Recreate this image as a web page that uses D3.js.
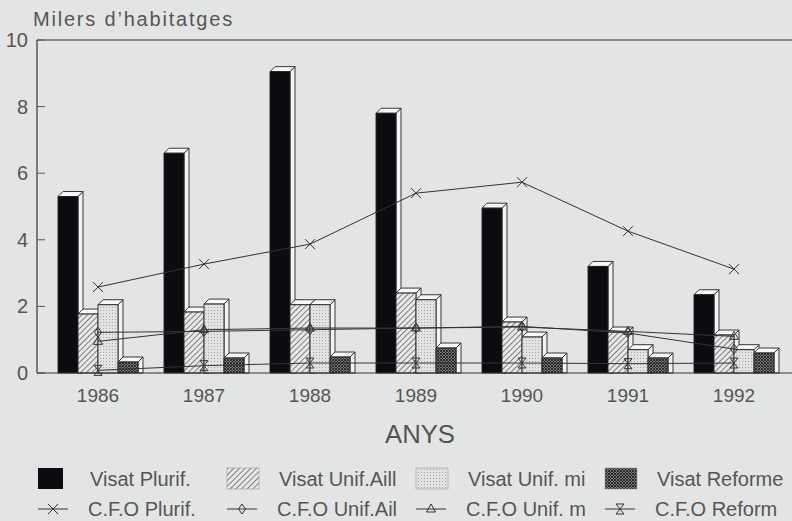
<!DOCTYPE html>
<html>
<head>
<meta charset="utf-8">
<script src="https://cdn.jsdelivr.net/npm/d3@7"></script>
<style>
  body { margin: 0; background: #e3e5e4; }
  svg { display: block; }
  text { font-family: "Liberation Sans", "DejaVu Sans", sans-serif; fill: #555; }
</style>
</head>
<body>
<svg id="chart" width="792" height="521"></svg>
<script>
// dades
const years = ["1986", "1987", "1988", "1989", "1990", "1991", "1992"];
const visatPlurif = [5.3, 6.6, 9.05, 7.8, 4.95, 3.2, 2.35];
const visatUnifAill = [1.77, 1.83, 2.05, 2.4, 1.53, 1.23, 1.14];
const visatUnifMi = [2.05, 2.07, 2.05, 2.2, 1.08, 0.7, 0.7];
const visatReforme = [0.33, 0.45, 0.48, 0.75, 0.45, 0.45, 0.6];
const cfoPlurif = [2.58, 3.27, 3.87, 5.4, 5.73, 4.26, 3.12];
const cfoUnifAil = [1.22, 1.25, 1.3, 1.35, 1.4, 1.2, 0.72];
const cfoUnifM = [0.95, 1.3, 1.35, 1.35, 1.38, 1.25, 1.1];
const cfoReform = [0.08, 0.22, 0.3, 0.3, 0.3, 0.28, 0.3];
const yTicks = [0, 2, 4, 6, 8, 10];

const svg = d3.select("#chart");
const x = d3.scaleBand().domain(years).range([45, 787]);
const y = d3.scaleLinear().domain([0, 10]).range([373, 40]);
const barW = 20, dx = 5, dy = 5;

// patrons
const defs = svg.append("defs");
const hatch = defs.append("pattern").attr("id", "hatch").attr("patternUnits", "userSpaceOnUse")
  .attr("width", 4).attr("height", 4).attr("patternTransform", "rotate(45)");
hatch.append("rect").attr("width", 4).attr("height", 4).attr("fill", "#e8e8e8");
hatch.append("line").attr("x1", 0).attr("y1", 0).attr("x2", 0).attr("y2", 4).attr("stroke", "#444").attr("stroke-width", 1.3);

const dots = defs.append("pattern").attr("id", "dots").attr("patternUnits", "userSpaceOnUse")
  .attr("width", 3).attr("height", 3);
dots.append("rect").attr("width", 3).attr("height", 3).attr("fill", "#e2e2e2");
dots.append("rect").attr("x", 1).attr("y", 1).attr("width", 1).attr("height", 1).attr("fill", "#aaa");

const dense = defs.append("pattern").attr("id", "dense").attr("patternUnits", "userSpaceOnUse")
  .attr("width", 3).attr("height", 3);
dense.append("rect").attr("width", 3).attr("height", 3).attr("fill", "#777");
dense.append("path").attr("d", "M0,0L3,3M3,0L0,3").attr("stroke", "#222").attr("stroke-width", 0.9);

const barSeries = [
  { name: "Visat Plurif.", values: visatPlurif, fill: "#0b0b10" },
  { name: "Visat Unif.Aill", values: visatUnifAill, fill: "url(#hatch)" },
  { name: "Visat Unif. mi", values: visatUnifMi, fill: "url(#dots)" },
  { name: "Visat Reforme", values: visatReforme, fill: "url(#dense)" }
];
const lineSeries = [
  { name: "C.F.O Plurif.", values: cfoPlurif, marker: "x" },
  { name: "C.F.O Unif.Ail", values: cfoUnifAil, marker: "diamond" },
  { name: "C.F.O Unif. m", values: cfoUnifM, marker: "triangle" },
  { name: "C.F.O Reform", values: cfoReform, marker: "hourglass" }
];

// eixos
svg.append("line").attr("x1", 37).attr("x2", 792).attr("y1", y(10)).attr("y2", y(10)).attr("stroke", "#333").attr("stroke-width", 1.2);
svg.append("line").attr("x1", 37).attr("x2", 37).attr("y1", y(10)).attr("y2", y(0)).attr("stroke", "#333").attr("stroke-width", 1.2);
svg.selectAll(".tick").data(yTicks).enter().append("line")
  .attr("x1", 37).attr("x2", 45).attr("y1", d => y(d)).attr("y2", d => y(d)).attr("stroke", "#555");
svg.selectAll(".ylab").data(yTicks).enter().append("text")
  .attr("x", 28).attr("y", d => y(d) + 7).attr("text-anchor", "end")
  .style("font-size", "20px").text(d => d);
svg.append("text").attr("x", 33).attr("y", 26).style("font-size", "20px").style("letter-spacing", "1.8px")
  .text("Milers d’habitatges");

// barres 3D
years.forEach((yr, i) => {
  const cx = x(yr) + x.bandwidth() / 2;
  barSeries.forEach((s, j) => {
    const x0 = cx - 2 * barW + j * barW, x1 = x0 + barW;
    const top = y(s.values[i]), base = y(0);
    const g = svg.append("g").attr("stroke", "#222").attr("stroke-width", 0.9).attr("stroke-linejoin", "round");
    g.append("path").attr("fill", "#f4f4f4")
      .attr("d", `M${x1},${base}L${x1},${top}L${x1 + dx},${top - dy}L${x1 + dx},${base}Z`);
    g.append("path").attr("fill", "#f8f8f8")
      .attr("d", `M${x0},${top}L${x0 + dx},${top - dy}L${x1 + dx},${top - dy}L${x1},${top}Z`);
    g.append("rect").attr("x", x0).attr("y", top).attr("width", barW).attr("height", base - top).attr("fill", s.fill);
  });
});
svg.append("line").attr("x1", 37).attr("x2", 792).attr("y1", y(0)).attr("y2", y(0)).attr("stroke", "#333").attr("stroke-width", 1.2);

// marcadors
function drawMarker(g, type, px, py) {
  const m = g.append("path").attr("fill", "none").attr("stroke", "#333").attr("stroke-width", 1);
  if (type === "x") m.attr("d", `M${px - 5},${py - 5}L${px + 5},${py + 5}M${px + 5},${py - 5}L${px - 5},${py + 5}`);
  if (type === "diamond") m.attr("d", `M${px},${py - 5}L${px + 3.5},${py}L${px},${py + 5}L${px - 3.5},${py}Z`);
  if (type === "triangle") m.attr("d", `M${px},${py - 5}L${px + 4.5},${py + 3}L${px - 4.5},${py + 3}Z`);
  if (type === "hourglass") m.attr("d", `M${px - 4},${py - 5}L${px + 4},${py - 5}L${px - 4},${py + 5}L${px + 4},${py + 5}Z`);
}

const line = d3.line().x((d, i) => x(years[i]) + x.bandwidth() / 2).y(d => y(d));
lineSeries.forEach(s => {
  svg.append("path").datum(s.values).attr("d", line).attr("fill", "none").attr("stroke", "#333").attr("stroke-width", 1);
  const g = svg.append("g");
  s.values.forEach((v, i) => drawMarker(g, s.marker, x(years[i]) + x.bandwidth() / 2, y(v)));
});

// etiquetes d'anys
svg.selectAll(".xlab").data(years).enter().append("text")
  .attr("x", d => x(d) + x.bandwidth() / 2).attr("y", 402).attr("text-anchor", "middle")
  .style("font-size", "19px").text(d => d);
svg.append("text").attr("x", 420).attr("y", 443).attr("text-anchor", "middle")
  .attr("textLength", 70).attr("lengthAdjust", "spacingAndGlyphs").style("font-size", "25px").text("ANYS");

// llegenda: 4 columnes
const colX = [38, 227, 416, 605];
barSeries.forEach((s, j) => {
  svg.append("rect").attr("x", colX[j]).attr("y", 468).attr("width", j === 0 ? 25 : 32).attr("height", 21)
    .attr("fill", s.fill).attr("stroke", j === 0 ? "none" : "#999").attr("stroke-width", 0.6);
  svg.append("text").attr("x", colX[j] + 52).attr("y", 486).style("font-size", "20px").text(s.name);
});
lineSeries.forEach((s, j) => {
  const g = svg.append("g");
  const lx = colX[j], ly = 509;
  g.append("line").attr("x1", lx).attr("x2", lx + 30).attr("y1", ly).attr("y2", ly).attr("stroke", "#333");
  drawMarker(g, s.marker, lx + 15, ly);
  svg.append("text").attr("x", colX[j] + 50).attr("y", 516).style("font-size", "20px").text(s.name);
});
</script>
</body>
</html>
